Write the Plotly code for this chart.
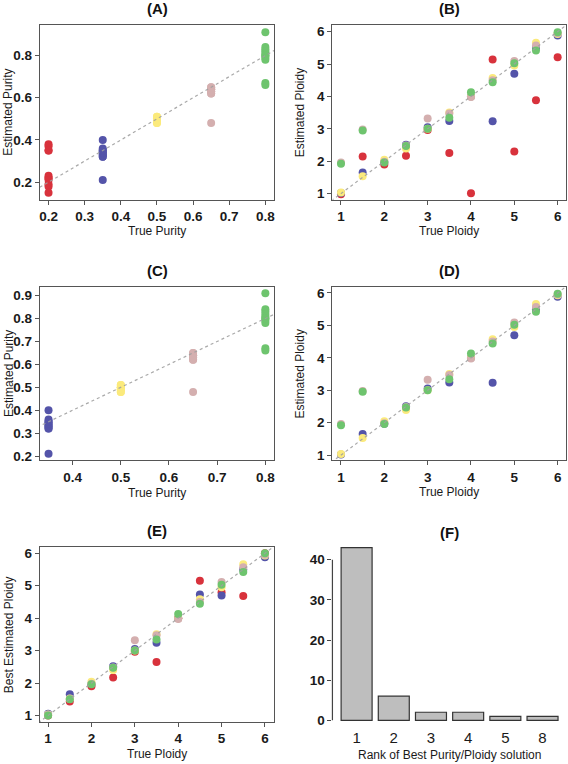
import plotly.graph_objects as go

# ---------------- data ----------------
PLOIDY = [1, 1.5, 2, 2.5, 3, 3.5, 4, 4.5, 5, 5.5, 6]
PURITY_LEVELS = [0.2, 0.35, 0.5, 0.65, 0.8]
GROUP_NAMES = ["p020", "p035", "p050", "p065", "p080"]
GROUP_COLORS = ["#D8323C", "#5454A9", "#FBEA7C", "#D4AFAF", "#6EC46E"]

# estimated purity (panel A / C), one value per true ploidy
EST_PURITY = {
    "p020": [0.38, 0.37, 0.35, 0.35, 0.23, 0.22, 0.22, 0.21, 0.19, 0.18, 0.15],
    "p035": [0.40, 0.36, 0.35, 0.34, 0.33, 0.33, 0.32, 0.32, 0.34, 0.35, 0.21],
    "p050": [0.51, 0.50, 0.50, 0.49, 0.48, 0.50, 0.49, 0.51, 0.50, 0.48, 0.49],
    "p065": [0.65, 0.64, 0.64, 0.63, 0.62, 0.65, 0.63, 0.64, 0.62, 0.63, 0.48],
    "p080": [0.91, 0.84, 0.83, 0.82, 0.81, 0.80, 0.79, 0.78, 0.80, 0.67, 0.66],
}
# estimated ploidy (panel B / D)
EST_PLOIDY = {
    "p020": [0.98, 2.14, 1.90, 2.17, 2.96, 2.25, 1.01, 5.14, 2.30, 3.88, 5.21],
    "p035": [1.02, 1.65, 1.97, 2.51, 3.05, 3.24, 4.00, 3.23, 4.70, 5.50, 5.88],
    "p050": [1.03, 1.53, 2.04, 2.39, 3.00, 3.50, 4.00, 4.57, 4.95, 5.66, 5.93],
    "p065": [1.96, 2.98, 1.98, 2.48, 3.32, 3.47, 3.98, 4.50, 5.09, 5.57, 5.95],
    "p080": [1.92, 2.95, 1.96, 2.47, 3.00, 3.34, 4.13, 4.44, 5.02, 5.42, 5.98],
}
# best estimated ploidy (panel E)
BEST_PLOIDY = {
    "p020": [1.00, 1.43, 1.90, 2.17, 2.96, 2.65, 4.00, 5.15, 4.80, 4.68, 6.00],
    "p035": [1.05, 1.65, 1.97, 2.52, 3.05, 3.24, 4.00, 4.73, 4.70, 5.50, 5.88],
    "p050": [1.03, 1.52, 2.04, 2.40, 3.00, 3.50, 4.00, 4.58, 4.95, 5.66, 5.93],
    "p065": [1.02, 1.51, 1.98, 2.48, 3.32, 3.47, 3.97, 4.50, 5.11, 5.57, 5.95],
    "p080": [1.00, 1.50, 1.96, 2.47, 3.00, 3.34, 4.13, 4.44, 5.03, 5.42, 6.00],
}
# panel F
RANK_LABELS = ["1", "2", "3", "4", "5", "8"]
RANK_COUNTS = [43, 6, 2, 2, 1, 1]

# ---------------- layout helpers ----------------
W, H = 568, 764
FONT = "Liberation Sans, Arial, sans-serif"


def px_x(a, b):
    return [a / W, b / W]


def px_y(top, bottom):
    return [1 - bottom / H, 1 - top / H]


LEFT_X = px_x(39, 274)
RIGHT_X = px_x(332.5, 567.3)
ROW1 = px_y(24.3, 200)
ROW2 = px_y(287.7, 462.3)
ROW3 = px_y(550, 725.7)
ROW3F = px_y(543.3, 731)

fig = go.Figure()
MS = 8


def add_points(xref, yref, xs_by_group, ys_by_group, groups):
    for g in groups:
        i = GROUP_NAMES.index(g)
        fig.add_trace(go.Scatter(
            x=xs_by_group[g], y=ys_by_group[g], mode="markers",
            marker=dict(size=MS, color=GROUP_COLORS[i], line=dict(width=0)),
            xaxis=xref, yaxis=yref, showlegend=False, hoverinfo="skip"))


true_purity = {g: [PURITY_LEVELS[i]] * len(PLOIDY) for i, g in enumerate(GROUP_NAMES)}
true_ploidy = {g: PLOIDY for g in GROUP_NAMES}
ALL = GROUP_NAMES
NO_RED = GROUP_NAMES[1:]

add_points("x", "y", true_purity, EST_PURITY, ALL)
add_points("x2", "y2", true_ploidy, EST_PLOIDY, ALL)
add_points("x3", "y3", true_purity, EST_PURITY, NO_RED)
add_points("x4", "y4", true_ploidy, EST_PLOIDY, NO_RED)
add_points("x5", "y5", true_ploidy, BEST_PLOIDY, ALL)

fig.add_trace(go.Bar(
    x=RANK_LABELS, y=RANK_COUNTS, xaxis="x6", yaxis="y6",
    marker=dict(color="#BEBEBE", line=dict(color="#333333", width=1.2)),
    showlegend=False, hoverinfo="skip"))

TICKFONT = dict(family=FONT, size=13.5, color="#1a1a1a", weight="bold")
AX = dict(showline=True, mirror=True, linecolor="#555555", linewidth=1.4,
          ticks="outside", ticklen=4, tickcolor="#555555", tickwidth=1,
          showgrid=False, zeroline=False, tickfont=TICKFONT)

def xa(domain, rng, vals, anchor, fmt=None):
    d = dict(AX, domain=domain, range=rng, tickvals=vals, anchor=anchor)
    if fmt:
        d["ticktext"] = fmt
    return d

purA_x = [0.2, 0.3, 0.4, 0.5, 0.6, 0.7, 0.8]
purA_y = [0.2, 0.4, 0.6, 0.8]
purC_x = [0.4, 0.5, 0.6, 0.7, 0.8]
purC_y = [0.2, 0.3, 0.4, 0.5, 0.6, 0.7, 0.8, 0.9]
ploT = [1, 2, 3, 4, 5, 6]

fig.update_layout(
    width=W, height=H, margin=dict(l=0, r=0, t=0, b=0),
    paper_bgcolor="white", plot_bgcolor="white",
    font=dict(family=FONT, color="#1a1a1a"),
    bargap=1 - 1 / 1.2,
    xaxis=xa(LEFT_X, [0.176, 0.824], purA_x, "y", [str(v) for v in purA_x]),
    yaxis=xa(ROW1, [0.117, 0.944], purA_y, "x", [str(v) for v in purA_y]),
    xaxis2=xa(RIGHT_X, [0.8, 6.2], ploT, "y2"),
    yaxis2=xa(ROW1, [0.81, 6.2], ploT, "x2"),
    xaxis3=xa(LEFT_X, [0.332, 0.818], purC_x, "y3", [str(v) for v in purC_x]),
    yaxis3=xa(ROW2, [0.182, 0.938], purC_y, "x3", [str(v) for v in purC_y]),
    xaxis4=xa(RIGHT_X, [0.8, 6.2], ploT, "y4"),
    yaxis4=xa(ROW2, [0.84, 6.19], ploT, "x4"),
    xaxis5=xa(LEFT_X, [0.81, 6.21], ploT, "y5"),
    yaxis5=xa(ROW3, [0.8, 6.18], ploT, "x5"),
    xaxis6=dict(domain=px_x(332.6, 567.7), range=[-0.65, 5.65], anchor="y6",
                showline=False, ticks="", showgrid=False, zeroline=False,
                tickfont=dict(family=FONT, size=15, color="#1a1a1a")),
    yaxis6=dict(domain=ROW3F, range=[-1.72, 44.72], anchor="x6",
                showline=False, ticks="outside", ticklen=4, tickcolor="#444",
                tickvals=[0, 10, 20, 30, 40], showgrid=False, zeroline=False,
                tickfont=TICKFONT),
)

# identity reference lines (y = x), clipped to each panel
for xr, yr in [("x", "y"), ("x2", "y2"), ("x3", "y3"), ("x4", "y4"), ("x5", "y5")]:
    fig.add_shape(type="line", xref=xr, yref=yr, x0=-1, y0=-1, x1=10, y1=10,
                  line=dict(color="rgba(160,160,160,0.9)", width=1.2, dash="3px,3px"),
                  layer="above")

# panel F axis line (0..40)
fig.add_shape(type="line", xref="x6 domain", yref="y6", x0=0, x1=0, y0=0, y1=40,
              line=dict(color="#444", width=1.2))

TITLE_FONT = dict(family=FONT, size=15, color="#111", weight="bold")
LAB_FONT = dict(family=FONT, size=12, color="#1a1a1a")

def ann(text, x, y, font, angle=0):
    fig.add_annotation(text=text, x=x / W, y=1 - y / H, xref="paper", yref="paper",
                       showarrow=False, font=font, textangle=angle,
                       xanchor="center", yanchor="middle")

ann("(A)", 157, 8, TITLE_FONT)
ann("(B)", 450, 8, TITLE_FONT)
ann("(C)", 157, 271.5, TITLE_FONT)
ann("(D)", 450, 271.5, TITLE_FONT)
ann("(E)", 157, 533, TITLE_FONT)
ann("(F)", 450, 535, TITLE_FONT)

ann("True Purity", 157, 232, LAB_FONT)
ann("True Ploidy", 450, 232, LAB_FONT)
ann("True Purity", 157, 495, LAB_FONT)
ann("True Ploidy", 450, 494.5, LAB_FONT)
ann("True Ploidy", 157, 757.5, LAB_FONT)
ann("Rank of Best Purity/Ploidy solution", 450, 758.5, LAB_FONT)

ann("Estimated Purity", 7.5, 112, LAB_FONT, -90)
ann("Estimated Ploidy", 300, 112, LAB_FONT, -90)
ann("Estimated Purity", 7.5, 375, LAB_FONT, -90)
ann("Estimated Ploidy", 300, 375, LAB_FONT, -90)
ann("Best Estimated Ploidy", 7.5, 638, LAB_FONT, -90)

fig.write_html(
    "out.html",
    config={"displayModeBar": False},
    post_script="document.body.style.margin='0';document.body.style.overflow='hidden';",
)
